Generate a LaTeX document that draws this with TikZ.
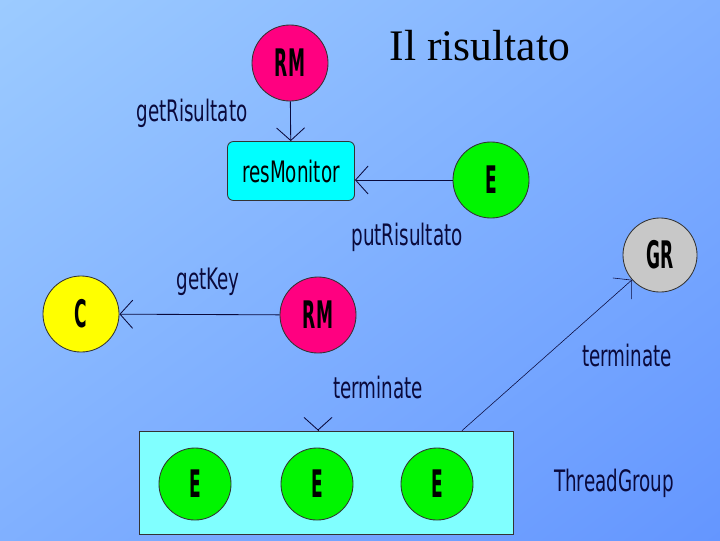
\documentclass[tikz,border=0pt]{standalone}
\usepackage{fontspec}
\setmainfont{Liberation Serif}
\newfontfamily\lblfont[FakeStretch=0.62]{DejaVu Sans}
\newfontfamily\ltrfont[FakeStretch=0.45]{DejaVu Sans}
\usetikzlibrary{arrows.meta,shadings}
\definecolor{bgtl}{RGB}{156,203,255}
\definecolor{bgtr}{RGB}{128,176,255}
\definecolor{bgbl}{RGB}{128,176,255}
\definecolor{bgbr}{RGB}{100,150,255}
\definecolor{rmpink}{RGB}{255,0,128}
\definecolor{egreen}{RGB}{0,245,0}
\definecolor{cyellow}{RGB}{255,255,0}
\definecolor{grgray}{RGB}{200,200,200}
\definecolor{mcyan}{RGB}{0,255,255}
\definecolor{tgcyan}{RGB}{128,255,255}
\definecolor{ink}{RGB}{10,10,60}
\tikzset{
  circ/.style={circle, draw=black!80, line width=0.6pt, minimum size=1.9cm, inner sep=0pt,
    font=\ltrfont\bfseries\fontsize{27}{30}\selectfont},
  lbl/.style={text=ink, font=\lblfont\fontsize{21}{24}\selectfont, inner sep=0pt},
  arr/.style={draw=ink, line width=0.6pt, -{Straight Barb[length=9pt,width=20pt]}},
}
\begin{document}
\begin{tikzpicture}[x=0.025cm, y=-0.025cm]
\useasboundingbox (0,0) rectangle (720,540);
\shade[upper left=bgtl, upper right=bgtr, lower left=bgbl, lower right=bgbr] (0,0) rectangle (720,540);
% title
\node[font=\fontsize{31}{36}\selectfont, anchor=base] (title) at (480,60) {Il risultato};
% monitor part
\node[circ, fill=rmpink] (rm1) at (290,63) {RM};
\node[draw=black!80, line width=0.6pt, fill=mcyan, rounded corners=0.15cm, minimum width=3.175cm,
  minimum height=1.475cm, font=\lblfont\fontsize{21}{24}\selectfont] (mon) at (291,171) {resMonitor};
\node[circ, fill=egreen] (e1) at (491,180) {E};
\node[circ, fill=grgray, minimum size=1.85cm] (gr) at (660,255) {GR};
\node[circ, fill=cyellow] (c) at (81,314) {C};
\node[circ, fill=rmpink] (rm2) at (318,315) {RM};
% thread group
\node[draw=black!80, line width=0.6pt, fill=tgcyan, minimum width=9.35cm, minimum height=2.575cm] (tg) at (326,482.5) {};
\foreach \i/\x in {1/195, 2/317, 3/437}
  \node[circ, fill=egreen, minimum size=1.8cm] (te\i) at (\x,484) {E};
% labels
\node[lbl] (lgetris) at (192,113) {getRisultato};
\node[lbl] (lputris) at (407,237) {putRisultato};
\node[lbl] (lgetkey) at (208,282) {getKey};
\node[lbl] (lterm1) at (378,387) {terminate};
\node[lbl] (lterm2) at (627,355) {terminate};
\node[lbl] (ltg) at (614,483) {ThreadGroup};
% arrows
\draw[arr] (rm1) -- (mon);
\draw[arr] (e1) -- (mon.east |- e1);
\draw[arr] (rm2) -- (c);
\draw[arr, shorten <=1.93cm] (rm2) -- (rm2 |- tg.north);
\draw[arr, line width=0.4pt] ([xshift=3.4cm]tg.north) -- (gr);
\end{tikzpicture}
\end{document}
